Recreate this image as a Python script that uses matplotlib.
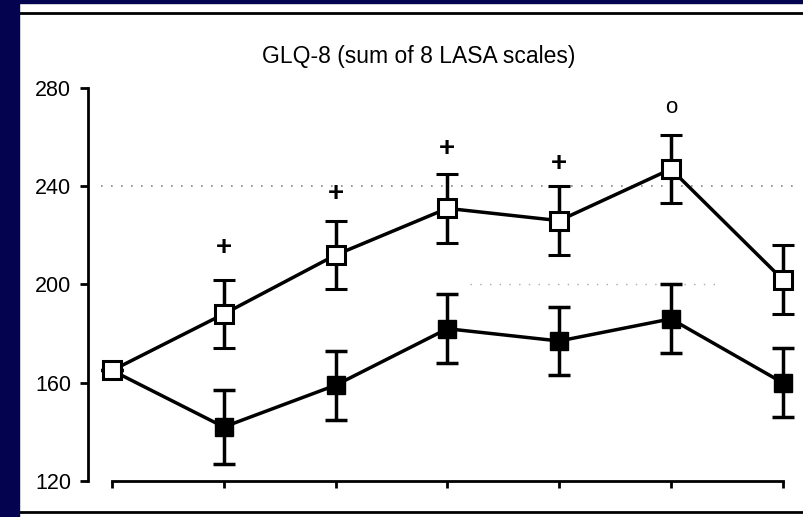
import matplotlib.pyplot as plt
from matplotlib.patches import Rectangle
from matplotlib.lines import Line2D

# GLQ-8 (sum of 8 LASA scales), two groups over 7 visits
visits = [0, 1, 2, 3, 4, 5, 6]
open_mean = [165, 188, 212, 231, 226, 247, 202]
open_err = [0, 14, 14, 14, 14, 14, 14]
filled_mean = [165, 142, 159, 182, 177, 186, 160]
filled_err = [0, 15, 14, 14, 14, 14, 14]

sig_pos = [1, 2, 3, 4, 5]
sig_val = [215, 237, 255, 249, 272]
sig_sym = ['+', '+', '+', '+', 'o']

yticks = [120, 160, 200, 240, 280]

plt.rcParams['font.family'] = ['Liberation Sans', 'DejaVu Sans']

fig = plt.figure(figsize=(8.04, 5.17), dpi=100)
ax = fig.add_axes([88/804, 36/517, 707/804, 393/517])

# scanned-slide frame
fig.add_artist(Rectangle((0, 0), 19/804, 1, transform=fig.transFigure, color='#03034f', zorder=5))
fig.add_artist(Rectangle((0, 1 - 3/517), 1, 3/517, transform=fig.transFigure, color='#03034f', zorder=5))
fig.add_artist(Line2D([19/804, 1], [1 - 13/517] * 2, transform=fig.transFigure, color='black', lw=2))
fig.add_artist(Line2D([19/804, 1], [5/517] * 2, transform=fig.transFigure, color='black', lw=2))

# dotted reference lines
ax.hlines(240, -0.1, 6.1, colors='#888888', linestyles=(0, (1, 5)), lw=1.2)
ax.hlines(200, 3.2, 5.4, colors='#aaaaaa', linestyles=(0, (1, 6)), lw=1.0)

ax.errorbar(visits, filled_mean, yerr=filled_err, color='black', lw=2.5,
            elinewidth=2.5, capsize=8, capthick=2.5, marker='s', markersize=13,
            mfc='black', mec='black', zorder=3)
ax.errorbar(visits, open_mean, yerr=open_err, color='black', lw=2.5,
            elinewidth=2.5, capsize=8, capthick=2.5, marker='s', markersize=13,
            mfc='white', mec='black', mew=2.2, zorder=4)

for p, v, s in zip(sig_pos, sig_val, sig_sym):
    if s == '+':
        ax.text(p, v, s, ha='center', va='center', fontsize=20, fontweight='bold')
    else:
        ax.text(p, v, s, ha='center', va='center', fontsize=16)

ax.set_xlim(-0.215, 6.11)
ax.set_ylim(120, 280)
ax.set_yticks(yticks)
ax.set_yticklabels([str(t) for t in yticks], fontsize=15.5)
ax.set_xticks(visits)
ax.set_xticklabels([])

ax.spines['top'].set_visible(False)
ax.spines['right'].set_visible(False)
ax.spines['left'].set_bounds(120, 280)
ax.spines['bottom'].set_bounds(0, 6)
ax.spines['left'].set_linewidth(2)
ax.spines['bottom'].set_linewidth(2)
ax.tick_params(axis='y', direction='out', length=6, width=2, pad=6)
ax.tick_params(axis='x', direction='out', length=5, width=2)

fig.text(419/804, 1 - 57/517, 'GLQ-8 (sum of 8 LASA scales)', ha='center', va='center', fontsize=16.5)

fig.savefig('out.png', dpi=100)
